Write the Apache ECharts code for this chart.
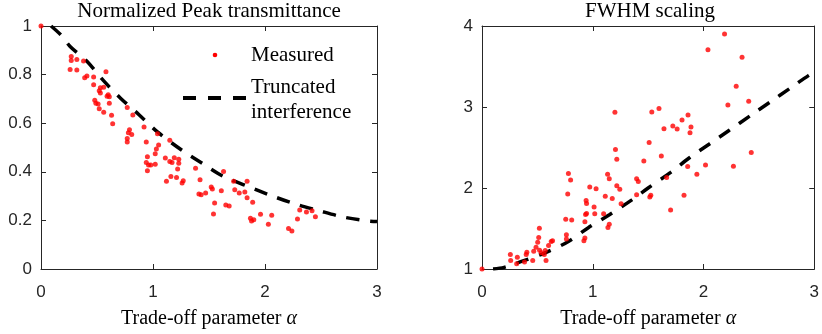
<!DOCTYPE html>
<html><head><meta charset="utf-8">
<script src="https://cdn.jsdelivr.net/npm/echarts/dist/echarts.min.js"></script>
<style>html,body{margin:0;padding:0;background:#fff}#c{width:822px;height:334px}</style>
</head><body><div id="c"></div>
<script>
// ---- Left panel: normalized peak transmittance ----
const peakMeasAlpha = [0,0.27,0.27,0.32,0.38,0.26,0.32,0.58,0.39,0.41,0.47,0.47,0.53,0.56,0.52,0.53,0.60,0.61,0.59,0.61,0.48,0.49,0.51,0.52,0.56,0.63,0.64,0.77,0.82,0.79,0.78,0.81,0.77,0.77,0.92,0.94,1.04,1.15,1.05,1.03,1.02,0.95,0.94,0.96,0.98,1.02,0.95,1.11,1.15,1.17,1.19,1.23,1.23,1.22,1.16,1.12,1.21,1.27,1.26,1.38,1.42,1.41,1.43,1.47,1.52,1.53,1.61,1.63,1.72,1.73,1.77,1.82,1.84,1.84,1.89,1.55,1.54,1.65,1.68,1.87,1.88,1.90,1.96,2.03,2.06,2.21,2.24,2.29,2.31,2.37,2.42,2.45];
const peakMeasValue = [1,0.875,0.858,0.862,0.856,0.821,0.819,0.812,0.787,0.794,0.790,0.758,0.746,0.748,0.734,0.724,0.717,0.709,0.711,0.682,0.694,0.682,0.679,0.659,0.645,0.633,0.598,0.665,0.634,0.573,0.561,0.554,0.537,0.523,0.584,0.523,0.557,0.530,0.510,0.494,0.474,0.462,0.438,0.428,0.428,0.431,0.404,0.457,0.442,0.438,0.458,0.452,0.435,0.412,0.381,0.361,0.377,0.363,0.354,0.415,0.367,0.309,0.306,0.313,0.337,0.329,0.322,0.401,0.361,0.326,0.313,0.317,0.361,0.293,0.275,0.272,0.226,0.263,0.259,0.209,0.198,0.203,0.225,0.184,0.221,0.167,0.156,0.206,0.243,0.235,0.240,0.215];
const peakModelAlpha = [0.09,0.18,0.26,0.41,0.556,0.71,0.875,1.04,1.26,1.44,1.625,1.84,2.045,2.253,2.476,2.685,2.908,3.0];
const peakModelValue = [1.0,0.962,0.916,0.855,0.776,0.703,0.635,0.564,0.488,0.435,0.382,0.341,0.304,0.270,0.241,0.215,0.198,0.195];

// ---- Right panel: FWHM scaling ----
const fwhmMeasAlpha = [0,0.256,0.259,0.319,0.313,0.405,0.399,0.384,0.458,0.467,0.488,0.512,0.518,0.503,0.5625,0.578,0.571,0.601,0.625,0.637,0.52,0.535,0.762,0.762,0.756,0.81,0.774,0.78,0.80,0.92,0.929,0.94,0.944,0.935,0.944,1.012,1.018,1.098,0.929,1.149,1.137,0.973,1.03,1.113,1.176,1.134,1.149,1.217,1.244,1.256,1.20,1.205,1.217,1.396,1.411,1.396,1.524,1.515,1.461,1.509,1.533,1.598,1.643,1.723,1.762,1.806,1.86,1.887,1.878,1.619,1.667,1.703,1.824,1.857,1.94,2.018,2.04,2.19,2.348,2.295,2.408,2.22,2.431,2.27];
const fwhmMeasValue = [1,1.179,1.106,1.146,1.065,1.207,1.179,1.085,1.106,1.22,1.268,1.39,1.504,1.329,1.179,1.106,1.228,1.289,1.341,1.35,1.23,1.2,1.423,1.37,1.614,1.606,1.927,2.18,2.10,1.35,1.382,1.845,1.809,1.674,1.686,1.765,1.683,1.683,1.582,1.553,1.512,2.012,1.992,1.899,1.87,2.171,2.113,2.028,1.984,1.805,2.935,2.476,2.354,2.113,2.081,1.918,1.911,1.89,2.333,2.561,2.939,2.98,2.73,2.764,2.728,2.84,2.90,2.752,2.683,2.394,2.13,1.728,1.911,2.265,2.171,2.284,3.707,3.902,3.613,3.256,3.07,3.024,2.439,2.27];
const fwhmModelAlpha = [0.1,0.2,0.35,0.57,0.78,0.96,1.15,1.35,1.5,1.7,1.87,2.05,2.23,2.42,2.6,2.78,2.95,3.0];
const fwhmModelValue = [1.0,1.02,1.09,1.20,1.34,1.51,1.67,1.85,2.0,2.19,2.37,2.54,2.71,2.89,3.06,3.23,3.39,3.43];

const xTicks = [0,1,2,3];
const titles = ['Normalized Peak transmittance','FWHM scaling'];
const xName = 'Trade-off parameter ';
const legendNames = ['Measured','Truncated','interference'];

const zip = (a,b) => a.map((v,i)=>[v,b[i]]);
const AX = '#262626';
const serif = 'Liberation Serif';

function xAx(grid, pos, showName){
  return {type:'value', gridIndex:grid, position:pos, min:xTicks[0], max:xTicks[xTicks.length-1], interval:1,
    axisLine:{show:true,onZero:false,lineStyle:{color:AX,width:1}},
    axisTick:{show:true,inside:true,length:5,lineStyle:{color:AX}},
    splitLine:{show:false},
    axisLabel:{show:pos==='bottom',color:AX,fontFamily:'Liberation Sans',fontSize:17,margin:15},
    name: showName ? '{n|'+xName+'}{a|α}' : '', nameLocation:'middle', nameGap:40,
    nameTextStyle:{rich:{n:{fontFamily:serif,fontSize:20,color:'#000'},a:{fontFamily:serif,fontStyle:'italic',fontSize:20,color:'#000'}}}
  };
}
function yAx(grid, pos, min, max, interval){
  return {type:'value', gridIndex:grid, position:pos, min:min, max:max, interval:interval,
    axisLine:{show:true,onZero:false,lineStyle:{color:AX,width:1}},
    axisTick:{show:true,inside:true,length:5,lineStyle:{color:AX}},
    splitLine:{show:false},
    axisLabel:{show:pos==='left',color:AX,fontFamily:'Liberation Sans',fontSize:17,margin:9}
  };
}

const chart = echarts.init(document.getElementById('c'), null, {renderer:'canvas'});
chart.setOption({
  animation:false,
  backgroundColor:'#fff',
  grid:[{left:41,top:26,width:336,height:246},{left:482,top:26,width:336,height:246}],
  xAxis:[xAx(0,'bottom',true), xAx(0,'top',false), xAx(1,'bottom',true), xAx(1,'top',false)],
  yAxis:[yAx(0,'left',0,1,0.2), yAx(0,'right',0,1,0.2), yAx(1,'left',1,4,1), yAx(1,'right',1,4,1)],
  series:[
    {type:'line', xAxisIndex:0, yAxisIndex:0, data:zip(peakModelAlpha,peakModelValue), showSymbol:false, smooth:0.3,
      lineStyle:{color:'#000',width:3.5,type:[13,11]}, z:2},
    {type:'scatter', xAxisIndex:0, yAxisIndex:0, data:zip(peakMeasAlpha,peakMeasValue), symbol:'circle', symbolSize:5,
      itemStyle:{color:'#ff0000'}, z:3},
    {type:'line', xAxisIndex:2, yAxisIndex:2, data:zip(fwhmModelAlpha,fwhmModelValue), showSymbol:false, smooth:0.3,
      lineStyle:{color:'#000',width:3.5,type:[13,11]}, z:2},
    {type:'scatter', xAxisIndex:2, yAxisIndex:2, data:zip(fwhmMeasAlpha,fwhmMeasValue), symbol:'circle', symbolSize:5,
      itemStyle:{color:'#ff0000'}, z:3}
  ],
  graphic:[
    {type:'text', x:209, y:11, style:{text:titles[0], font:'21px "Liberation Serif"', fill:'#000', textAlign:'center', textVerticalAlign:'middle'}},
    {type:'text', x:650, y:11, style:{text:titles[1], font:'21px "Liberation Serif"', fill:'#000', textAlign:'center', textVerticalAlign:'middle'}},
    {type:'circle', shape:{cx:215, cy:55, r:2.3}, style:{fill:'#ff0000'}},
    {type:'text', x:251, y:55, style:{text:legendNames[0], font:'21px "Liberation Serif"', fill:'#000', textVerticalAlign:'middle'}},
    {type:'line', shape:{x1:183, y1:98, x2:247, y2:98}, style:{stroke:'#000', lineWidth:4, lineDash:[13,12]}},
    {type:'text', x:251, y:87, style:{text:legendNames[1], font:'21px "Liberation Serif"', fill:'#000', textVerticalAlign:'middle'}},
    {type:'text', x:251, y:112, style:{text:legendNames[2], font:'21px "Liberation Serif"', fill:'#000', textVerticalAlign:'middle'}}
  ]
});
</script></body></html>
